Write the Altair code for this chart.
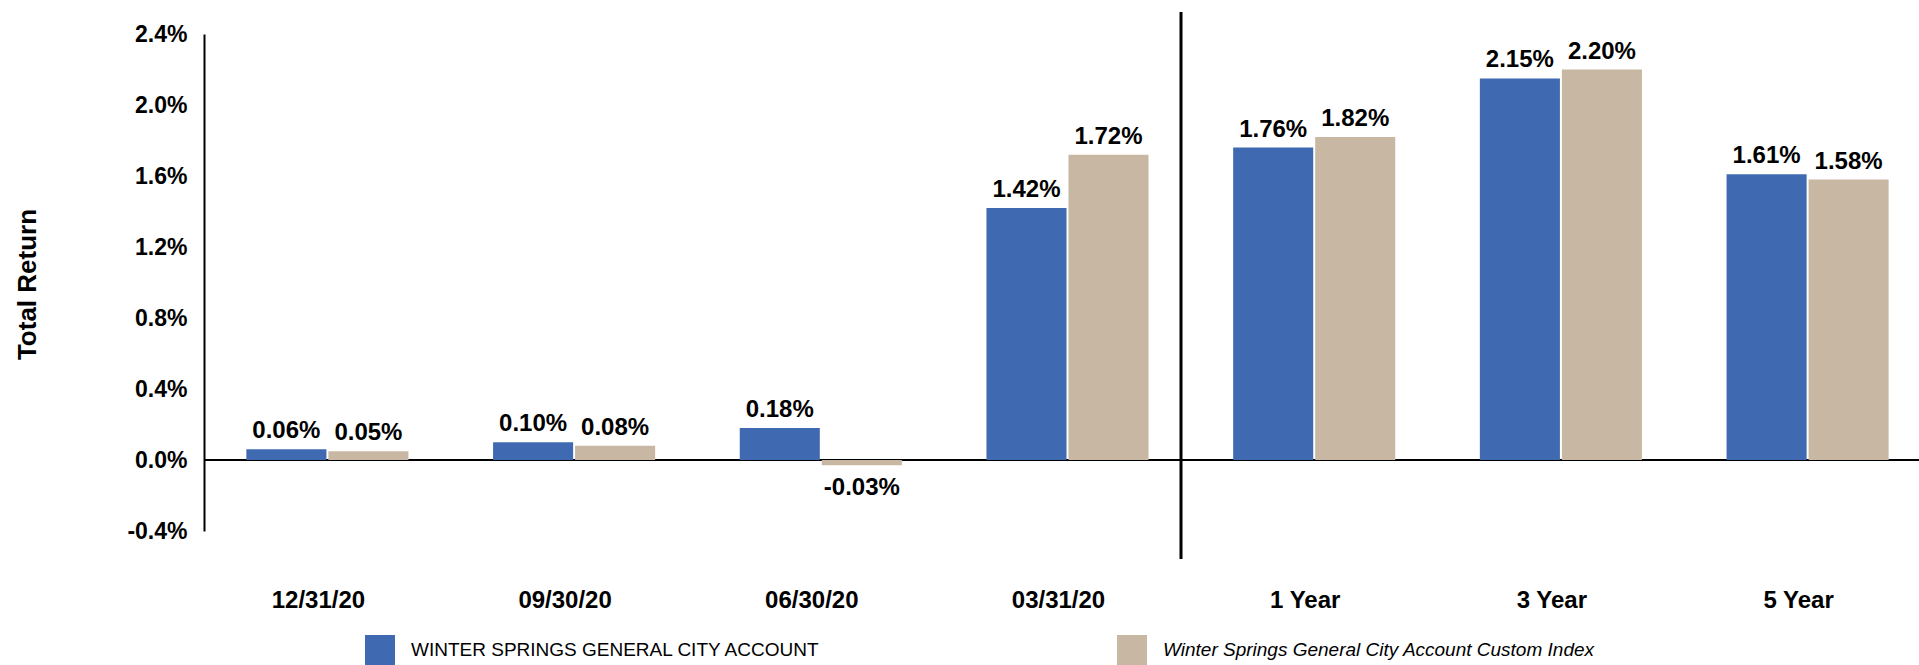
import altair as alt
import pandas as pd

# ---- data ----
categories = ["12/31/20", "09/30/20", "06/30/20", "03/31/20", "1 Year", "3 Year", "5 Year"]
series_names = ["WINTER SPRINGS GENERAL CITY ACCOUNT",
                "Winter Springs General City Account Custom Index"]
account_values = [0.06, 0.10, 0.18, 1.42, 1.76, 2.15, 1.61]
index_values = [0.05, 0.08, -0.03, 1.72, 1.82, 2.20, 1.58]
y_ticks = [-0.4, 0.0, 0.4, 0.8, 1.2, 1.6, 2.0, 2.4]
colors = ["#3F6AB2", "#C8B8A3"]

rows = []
for cat, a, b in zip(categories, account_values, index_values):
    rows.append({"cat": cat, "series": series_names[0], "value": a})
    rows.append({"cat": cat, "series": series_names[1], "value": b})
df = pd.DataFrame(rows)
df["label"] = df["value"].map(lambda v: f"{v:.2f}%")

FONT = "Liberation Sans"
W, H = 1715, 497

x_enc = alt.X("cat:N", sort=categories,
              scale=alt.Scale(range=[0, 1727], paddingInner=0.343, paddingOuter=0.1717),
              axis=alt.Axis(title=None, labelAngle=0, domain=False, ticks=False, tickSize=0,
                            grid=False, labelFontSize=24, labelFontWeight="bold",
                            labelFont=FONT, labelColor="black", labelPadding=69,
                            labelBaseline="middle", labelOffset=-9))
xoff_enc = alt.XOffset("series:N", sort=series_names,
                       scale=alt.Scale(paddingInner=0.024, paddingOuter=0))
y_scale = alt.Scale(domain=[-0.4, 2.4], nice=False, zero=False)
y_axis = alt.Axis(title="Total Return", values=y_ticks,
                  labelExpr="(datum.value < -0.0001 ? '-' : '') + format(abs(datum.value), '.1f') + '%'",
                  domain=True, domainColor="black", domainWidth=2, ticks=False, tickSize=0,
                  grid=False, labelFontSize=23, labelFontWeight="bold", labelFont=FONT,
                  labelColor="black", labelPadding=17,
                  titleFont=FONT, titleFontSize=26, titleFontWeight="bold", titleColor="black",
                  titleAngle=270, titleX=-177, titleY=250, titleAlign="center",
                  titleBaseline="middle")

base = alt.Chart(df)

bars = base.mark_bar().encode(
    x=x_enc,
    xOffset=xoff_enc,
    y=alt.Y("value:Q", scale=y_scale, axis=y_axis),
    color=alt.Color("series:N", sort=series_names,
                    scale=alt.Scale(domain=series_names, range=colors),
                    legend=alt.Legend(
                        title=None, orient="none", legendX=161, legendY=601,
                        direction="horizontal", symbolType="square", symbolSize=900,
                        symbolStrokeWidth=0, symbolOpacity=1, labelOffset=16,
                        columnPadding=296, padding=0, labelFont=FONT, labelFontSize=19,
                        labelColor="black", labelLimit=1000,
                        labelFontStyle=alt.ExprRef(
                            expr="datum.label == 'Winter Springs General City Account Custom Index' ? 'italic' : 'normal'"))),
)

pos_text = base.transform_filter("datum.value >= 0").mark_text(
    baseline="alphabetic", dy=-11, font=FONT, fontSize=24, fontWeight="bold", color="black"
).encode(x=alt.X("cat:N", sort=categories), xOffset=alt.XOffset("series:N", sort=series_names),
         y="value:Q", text="label:N")

neg_text = base.transform_filter("datum.value < 0").mark_text(
    baseline="top", dy=11, font=FONT, fontSize=24, fontWeight="bold", color="black"
).encode(x=alt.X("cat:N", sort=categories), xOffset=alt.XOffset("series:N", sort=series_names),
         y="value:Q", text="label:N")

zero_line = alt.Chart(pd.DataFrame({"y": [0.0]})).mark_rule(color="black", strokeWidth=2).encode(
    y="y:Q", x=alt.value(0), x2=alt.value(W))

divider = alt.Chart(pd.DataFrame({"d": [0]})).mark_rule(color="black", strokeWidth=3).encode(
    x=alt.value(977), y=alt.value(-22), y2=alt.value(525))

chart = alt.layer(zero_line, bars, pos_text, neg_text, divider).properties(
    width=W, height=H,
    autosize=alt.AutoSizeParams(type="none"),
    padding={"left": 204, "top": 34, "right": 0, "bottom": 134},
    background="white",
).configure_view(strokeWidth=0)

chart.save("out.html", embed_options={"renderer": "svg", "actions": False})
